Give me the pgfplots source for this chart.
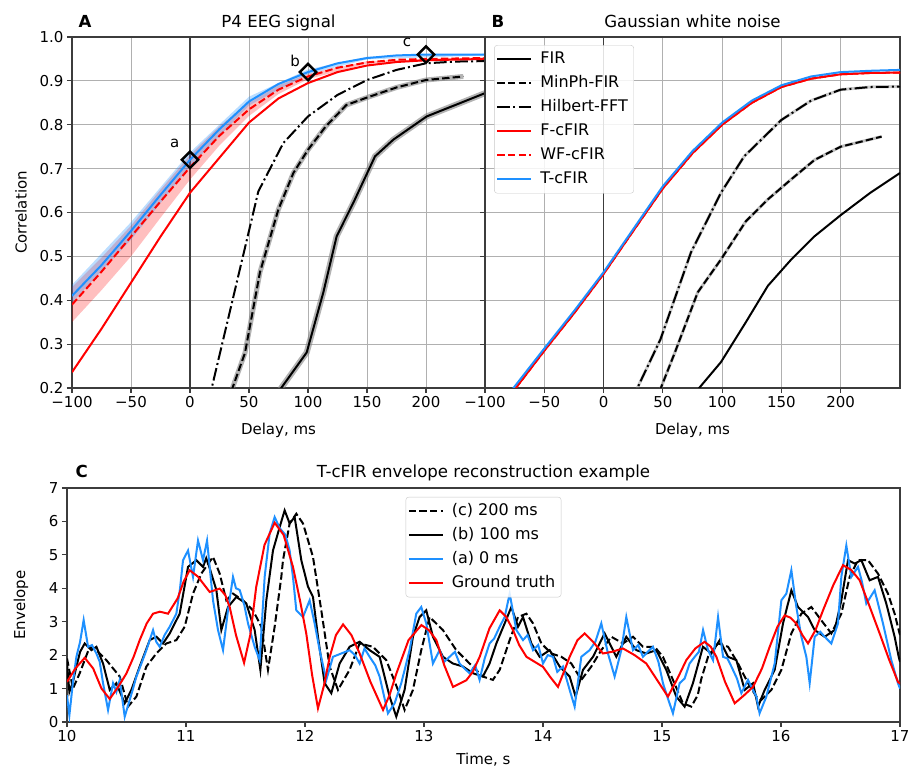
\documentclass[border=0pt]{standalone}
\usepackage{fontspec}
\setmainfont{DejaVu Sans}
\usepackage{pgfplots}
\pgfplotsset{compat=1.18}
\definecolor{tcblue}{RGB}{30,144,255}
\definecolor{gridgray}{RGB}{176,176,176}
\definecolor{spine}{RGB}{60,60,60}
\newcommand\tfont{\fontsize{15}{18}\selectfont}
\newcommand\lfont{\fontsize{16}{19}\selectfont}
\newcommand\Tfont{\fontsize{16.6}{20}\selectfont}
\pgfplotsset{
  mystyle/.style={scale only axis, axis line style={line width=1.2pt, color=spine},
    tick align=outside, tick pos=left, major tick length=5pt,
    every tick/.style={spine, line width=1.1pt},
    tick label style={font=\tfont},
    /pgf/number format/assume math mode=true},
  gridsty/.style={grid=major, major grid style={line width=1pt, color=gridgray}},
  sdash/.style={dash pattern=on 7.4pt off 3.2pt},
  sdashdot/.style={dash pattern=on 12.8pt off 3.2pt on 2pt off 3.2pt},
  mylegend/.style={legend style={draw=gridgray!70, rounded corners=3pt,
    fill=white, fill opacity=0.85, text opacity=1, font=\lfont, inner sep=2pt,
    row sep=0pt, nodes={text height=12pt, text depth=4pt, inner sep=4pt},
    /tikz/every odd column/.append style={column sep=4pt}},
    legend cell align=left,
    legend image code/.code={\draw[##1] (0pt,0pt) -- (34pt,0pt);}},
}
\begin{document}
\begin{tikzpicture}[x=1pt,y=1pt]
\path[use as bounding box] (0,0) rectangle (910,773);

% ---------------- Panel A ----------------
\begin{axis}[mystyle, gridsty, at={(72pt,385pt)}, anchor=south west,
  width=413pt, height=351pt, xmin=-100, xmax=250, ymin=0.2, ymax=1.0,
  xtick={-100,-50,0,50,100,150,200,250},
  xticklabels={−100,−50,0,50,100,150,200,{}},
  ytick={0.2,0.3,0.4,0.5,0.6,0.7,0.8,0.9,1.0},
  yticklabels={0.2,0.3,0.4,0.5,0.6,0.7,0.8,0.9,1.0}]
\draw[spine, line width=1.5pt] (axis cs:0,0.2) -- (axis cs:0,1.0);
% bands
\addplot[fill=red, fill opacity=0.25, draw=none, forget plot] coordinates {
(-100,0.43)(-75,0.497)(-50,0.57)(-25,0.652)(0,0.731)(25,0.797)(50,0.85)(75,0.89)(100,0.916)(150,0.945)(250,0.954)
(250,0.95)(150,0.939)(100,0.904)(75,0.87)(50,0.82)(25,0.753)(0,0.675)(-25,0.588)(-50,0.5)(-75,0.423)(-100,0.35)};
\addplot[fill=tcblue, fill opacity=0.3, draw=none, forget plot] coordinates {
(-100,0.435)(-50,0.578)(0,0.737)(50,0.864)(100,0.926)(150,0.955)(250,0.962)
(250,0.958)(150,0.949)(100,0.915)(50,0.844)(0,0.705)(-50,0.538)(-100,0.395)};
\addplot[gray, opacity=0.6, line width=6pt, forget plot] coordinates {
(70,0.17)(77.7,0.2015)(98.9,0.281)(113,0.418)(124.3,0.546)(138.4,0.622)(156.8,0.728)(172.3,0.766)(200.6,0.819)(250,0.872)};
\addplot[gray, opacity=0.6, line width=5pt, forget plot] coordinates {
(33,0.17)(36,0.2)(46.6,0.28)(59.3,0.464)(74.9,0.607)(87.6,0.69)(100,0.743)(115,0.796)(132.5,0.845)(150,0.862)(175,0.885)(200,0.902)(231.6,0.91)};
% lines
\addplot[black, line width=2pt] coordinates {
(70,0.17)(77.7,0.2015)(98.9,0.281)(113,0.418)(124.3,0.546)(138.4,0.622)(156.8,0.728)(172.3,0.766)(200.6,0.819)(250,0.872)};
\addplot[black, line width=2pt, sdash] coordinates {
(33,0.17)(36,0.2)(46.6,0.28)(59.3,0.464)(74.9,0.607)(87.6,0.69)(100,0.743)(115,0.796)(132.5,0.845)(150,0.862)(175,0.885)(200,0.902)(231.6,0.91)};
\addplot[black, line width=2pt, sdashdot] coordinates {
(15.7,0.17)(18.4,0.2)(57.9,0.648)(79,0.758)(100,0.819)(125,0.868)(150,0.902)(175,0.925)(200,0.94)(225,0.944)(250,0.945)};
\addplot[red, line width=2pt] coordinates {
(-100,0.236)(-75,0.335)(-50,0.44)(-25,0.545)(0,0.645)(25,0.725)(50,0.805)(75,0.86)(100,0.895)(125,0.92)(150,0.935)(175,0.943)(200,0.947)(250,0.95)};
\addplot[red, line width=2pt, sdash] coordinates {
(-100,0.39)(-75,0.465)(-50,0.545)(-25,0.625)(0,0.703)(25,0.775)(50,0.835)(75,0.88)(100,0.91)(125,0.93)(150,0.942)(175,0.948)(200,0.95)(250,0.952)};
\addplot[tcblue, line width=2pt] coordinates {
(-100,0.41)(-75,0.48)(-50,0.558)(-25,0.64)(0,0.72)(25,0.79)(50,0.853)(75,0.893)(100,0.92)(125,0.94)(150,0.952)(175,0.958)(200,0.96)(250,0.96)};
\addplot[only marks, mark=square, mark size=5.8pt, line width=2.4pt, black,
  every mark/.append style={rotate=45}] coordinates {(0,0.72)(100,0.92)(200,0.96)};
\node[font=\tfont] at (axis cs:-13,0.757) {a};
\node[font=\tfont] at (axis cs:89,0.946) {b};
\node[font=\tfont] at (axis cs:184,0.987) {c};
\end{axis}

% ---------------- Panel B ----------------
\begin{axis}[mystyle, gridsty, mylegend, at={(485pt,385pt)}, anchor=south west,
  width=415pt, height=351pt, xmin=-100, xmax=250, ymin=0.2, ymax=1.0,
  xtick={-100,-50,0,50,100,150,200},
  xticklabels={−100,−50,0,50,100,150,200},
  ytick={0.2,0.3,0.4,0.5,0.6,0.7,0.8,0.9,1.0}, yticklabels={},
  legend style={at={(0.022,0.977)}, anchor=north west}]
\draw[spine, line width=1.5pt] (axis cs:0,0.2) -- (axis cs:0,1.0);
\addplot[gray, opacity=0.5, line width=3pt, forget plot] coordinates {
(44,0.17)(48.3,0.2)(60,0.28)(79.4,0.418)(99,0.493)(120,0.58)(138.6,0.63)(158,0.675)(178,0.72)(200,0.75)(234.5,0.773)};
\addplot[gray, opacity=0.4, line width=3pt, forget plot] coordinates {
(25,0.17)(28.5,0.2)(48,0.311)(73.7,0.509)(99,0.645)(118.6,0.728)(150,0.811)(175,0.855)(200,0.88)(225,0.886)(250,0.887)};
\addplot[black, line width=2pt] coordinates {
(75,0.17)(80.6,0.2)(99,0.259)(120,0.35)(138.6,0.433)(158.3,0.493)(178,0.546)(200,0.594)(225,0.645)(250,0.69)};
\addlegendentry{FIR}
\addplot[black, line width=2pt, sdash] coordinates {
(44,0.17)(48.3,0.2)(60,0.28)(79.4,0.418)(99,0.493)(120,0.58)(138.6,0.63)(158,0.675)(178,0.72)(200,0.75)(234.5,0.773)};
\addlegendentry{MinPh-FIR}
\addplot[black, line width=2pt, sdashdot] coordinates {
(25,0.17)(28.5,0.2)(48,0.311)(73.7,0.509)(99,0.645)(118.6,0.728)(150,0.811)(175,0.855)(200,0.88)(225,0.886)(250,0.887)};
\addlegendentry{Hilbert-FFT}
\addplot[red, line width=2pt] coordinates {
(-80,0.18)(-74,0.2)(-50,0.285)(-25,0.37)(0,0.46)(25,0.558)(50,0.655)(75,0.735)(100,0.8)(125,0.85)(150,0.886)(175,0.905)(200,0.915)(225,0.918)(250,0.919)};
\addlegendentry{F-cFIR}
\addplot[red, line width=2pt, sdash] coordinates {
(-80,0.18)(-74,0.2)(-50,0.285)(-25,0.37)(0,0.46)(25,0.558)(50,0.655)(75,0.735)(100,0.8)(125,0.85)(150,0.886)(175,0.905)(200,0.915)(225,0.918)(250,0.919)};
\addlegendentry{WF-cFIR}
\addplot[tcblue, line width=2pt] coordinates {
(-82,0.18)(-76,0.2)(-50,0.29)(-25,0.375)(0,0.464)(25,0.562)(50,0.66)(75,0.74)(100,0.805)(125,0.855)(150,0.89)(175,0.91)(200,0.92)(225,0.923)(250,0.925)};
\addlegendentry{T-cFIR}
\end{axis}

% ---------------- Panel C ----------------
\begin{axis}[mystyle, mylegend, at={(67pt,51pt)}, anchor=south west,
  width=833pt, height=234pt, xmin=10, xmax=17, ymin=0, ymax=7,
  xtick={10,11,12,13,14,15,16,17}, xticklabels={10,11,12,13,14,15,16,17},
  ytick={0,1,2,3,4,5,6,7}, yticklabels={0,1,2,3,4,5,6,7},
  legend style={at={(0.5,0.962)}, anchor=north}]
\addplot[black, line width=2pt, sdash] coordinates {
(10.0,1.9)(10.05,1.0)(10.107,1.46)(10.191,2.25)(10.247,2.15)(10.331,1.85)(10.443,1.36)(10.513,0.46)(10.583,0.76)(10.667,1.66)(10.751,2.05)(10.835,2.35)(10.919,2.45)(10.989,2.85)(11.059,3.84)(11.129,4.44)(11.227,4.94)(11.283,4.44)(11.339,3.64)(11.395,3.84)(11.479,3.64)(11.563,3.34)(11.633,2.85)(11.689,1.56)(11.745,2.85)(11.801,4.34)(11.815,4.84)(11.871,5.94)(11.927,6.23)(11.983,5.94)(12.067,4.94)(12.137,3.34)(12.207,1.66)(12.277,0.96)(12.375,1.56)(12.459,2.35)(12.571,2.25)(12.683,1.85)(12.781,0.96)(12.837,0.36)(12.907,0.96)(12.977,2.15)(13.047,3.14)(13.159,2.75)(13.271,2.15)(13.383,1.75)(13.495,1.36)(13.579,1.26)(13.636,1.56)(13.72,2.45)(13.79,3.14)(13.86,3.24)(13.916,2.95)(13.986,2.35)(14.07,2.05)(14.154,1.95)(14.238,1.75)(14.322,1.26)(14.406,1.66)(14.49,2.15)(14.574,2.55)(14.672,2.35)(14.756,2.55)(14.84,2.25)(14.938,2.25)(15.008,1.95)(15.092,1.26)(15.176,0.56)(15.246,0.46)(15.3,0.8)(15.331,1.3)(15.387,1.95)(15.471,2.35)(15.555,2.25)(15.639,1.75)(15.723,1.16)(15.793,0.76)(15.835,0.66)(15.919,0.96)(16.003,1.56)(16.087,2.65)(16.171,3.24)(16.255,3.44)(16.339,3.04)(16.423,2.65)(16.507,3.24)(16.577,4.34)(16.647,4.84)(16.731,4.84)(16.815,4.44)(16.899,3.84)(16.955,3.24)(16.989,2.75)(17.0,2.6)};
\addlegendentry{(c) 200 ms}
\addplot[black, line width=2pt] coordinates {
(10.0,1.75)(10.02,0.9)(10.05,1.2)(10.079,1.66)(10.11,2.1)(10.149,2.35)(10.205,2.15)(10.247,2.25)(10.303,1.75)(10.359,0.96)(10.415,1.16)(10.485,0.56)(10.541,0.96)(10.611,1.66)(10.695,2.45)(10.751,2.55)(10.807,2.35)(10.863,2.65)(10.947,3.24)(11.017,4.64)(11.087,4.84)(11.143,4.64)(11.17,4.9)(11.199,4.6)(11.255,3.95)(11.297,2.75)(11.353,3.44)(11.423,3.74)(11.507,3.54)(11.577,2.75)(11.625,1.56)(11.675,3.64)(11.731,5.13)(11.787,5.83)(11.829,6.33)(11.871,5.94)(11.913,6.13)(11.969,4.84)(12.025,4.05)(12.067,3.74)(12.109,2.55)(12.165,1.16)(12.221,0.86)(12.291,1.75)(12.375,2.25)(12.459,2.40)(12.543,2.15)(12.627,1.95)(12.711,0.76)(12.767,0.16)(12.837,0.96)(12.907,2.55)(12.963,3.14)(13.019,3.34)(13.075,2.55)(13.159,1.95)(13.243,1.75)(13.327,1.66)(13.411,1.46)(13.495,1.36)(13.551,1.75)(13.608,2.35)(13.678,2.95)(13.734,3.44)(13.79,2.85)(13.832,3.14)(13.902,2.35)(13.972,1.95)(14.056,2.15)(14.14,1.66)(14.224,1.36)(14.274,0.76)(14.336,1.56)(14.42,1.95)(14.518,2.65)(14.616,1.95)(14.70,2.55)(14.784,2.15)(14.868,2.05)(14.952,2.15)(15.036,1.56)(15.12,0.76)(15.19,0.46)(15.26,1.16)(15.344,2.25)(15.415,2.05)(15.485,2.45)(15.555,1.95)(15.625,1.85)(15.695,0.96)(15.765,1.16)(15.807,0.46)(15.863,0.96)(15.947,1.56)(16.017,2.95)(16.087,3.94)(16.143,3.44)(16.227,3.14)(16.283,2.75)(16.367,2.55)(16.451,2.75)(16.507,3.64)(16.563,4.84)(16.619,4.74)(16.675,4.84)(16.745,4.24)(16.815,4.34)(16.885,3.54)(16.955,2.55)(16.989,1.95)(17.0,1.8)};
\addlegendentry{(b) 100 ms}
\addplot[tcblue, line width=2pt] coordinates {
(10.0,0.8)(10.02,0.2)(10.05,1.2)(10.079,1.95)(10.11,2.4)(10.14,3.05)(10.177,2.25)(10.21,2.3)(10.247,2.05)(10.275,1.8)(10.303,1.16)(10.345,0.36)(10.387,1.16)(10.415,0.9)(10.443,1.26)(10.485,0.16)(10.527,0.66)(10.555,1.0)(10.583,1.36)(10.62,1.7)(10.667,2.15)(10.723,2.75)(10.75,2.4)(10.779,2.25)(10.82,2.6)(10.863,2.85)(10.919,3.24)(10.95,4.0)(10.975,4.84)(11.017,5.13)(11.059,4.34)(11.101,5.43)(11.143,4.84)(11.177,5.43)(11.2,4.6)(11.227,3.64)(11.269,2.75)(11.311,2.15)(11.353,3.34)(11.395,4.34)(11.42,4.0)(11.451,3.95)(11.49,3.5)(11.521,2.95)(11.577,2.25)(11.619,1.85)(11.661,4.34)(11.703,5.64)(11.745,6.13)(11.787,5.8)(11.835,5.6)(11.871,5.13)(11.9,4.3)(11.927,3.34)(11.983,3.14)(12.039,3.64)(12.081,2.95)(12.123,2.15)(12.179,1.26)(12.235,1.95)(12.305,2.05)(12.375,2.15)(12.42,2.0)(12.459,1.75)(12.5,2.2)(12.543,1.95)(12.59,1.7)(12.627,1.36)(12.697,0.26)(12.753,0.56)(12.809,1.16)(12.879,2.15)(12.935,3.24)(12.977,3.44)(13.019,2.95)(13.075,1.75)(13.131,2.15)(13.17,1.8)(13.215,1.95)(13.26,2.1)(13.299,1.75)(13.34,1.6)(13.383,1.46)(13.43,1.7)(13.467,1.26)(13.51,1.9)(13.551,2.35)(13.59,2.5)(13.636,2.85)(13.678,3.14)(13.72,3.84)(13.776,2.75)(13.832,2.45)(13.87,2.6)(13.916,2.15)(13.96,2.3)(14.0,1.75)(14.04,2.0)(14.084,1.95)(14.12,1.5)(14.168,1.66)(14.224,0.96)(14.266,0.46)(14.322,1.95)(14.392,2.15)(14.44,2.4)(14.49,2.95)(14.546,2.05)(14.602,1.36)(14.658,2.15)(14.70,3.14)(14.756,2.15)(14.8,2.3)(14.84,1.95)(14.88,2.1)(14.924,2.25)(14.97,1.8)(15.008,1.16)(15.05,0.7)(15.092,0.26)(15.148,1.16)(15.19,1.3)(15.232,1.75)(15.275,1.95)(15.31,2.1)(15.345,2.75)(15.387,2.15)(15.429,1.85)(15.471,3.14)(15.513,1.95)(15.55,1.9)(15.583,1.66)(15.63,1.3)(15.667,0.86)(15.723,1.26)(15.793,0.76)(15.82,0.26)(15.877,0.76)(15.947,1.75)(16.003,3.64)(16.045,3.84)(16.087,4.54)(16.129,3.44)(16.171,2.55)(16.213,1.95)(16.241,1.16)(16.283,2.55)(16.33,2.7)(16.367,2.55)(16.423,2.35)(16.479,2.95)(16.507,4.34)(16.549,5.28)(16.591,4.34)(16.647,4.64)(16.68,4.2)(16.717,3.54)(16.787,3.94)(16.857,2.95)(16.927,1.85)(16.983,1.16)(17.0,1.0)};
\addlegendentry{(a) 0 ms}
\addplot[red, line width=2pt] coordinates {
(10.0,1.20)(10.07,1.6)(10.149,1.92)(10.22,1.6)(10.29,1.0)(10.359,0.69)(10.43,1.05)(10.499,1.45)(10.56,1.95)(10.611,2.45)(10.67,2.95)(10.723,3.24)(10.78,3.3)(10.849,3.24)(10.93,3.7)(10.98,4.2)(11.031,4.54)(11.1,4.35)(11.199,3.89)(11.283,3.99)(11.33,3.8)(11.367,3.44)(11.42,2.6)(11.488,1.77)(11.54,2.6)(11.59,4.04)(11.66,5.3)(11.745,5.96)(11.82,5.6)(11.899,4.64)(11.96,3.6)(12.011,2.64)(12.06,1.4)(12.109,0.41)(12.16,1.1)(12.208,1.95)(12.26,2.6)(12.32,2.92)(12.39,2.6)(12.459,2.05)(12.55,1.2)(12.656,0.36)(12.71,0.8)(12.768,1.45)(12.87,2.45)(12.978,2.90)(13.04,2.75)(13.104,2.45)(13.17,1.7)(13.244,1.05)(13.3,1.15)(13.356,1.25)(13.41,1.5)(13.468,1.95)(13.55,2.8)(13.636,3.34)(13.69,3.15)(13.748,2.75)(13.8,2.3)(13.861,1.95)(13.93,1.8)(14.0,1.65)(14.06,1.35)(14.126,1.05)(14.17,1.45)(14.224,1.95)(14.29,2.45)(14.35,2.65)(14.42,2.4)(14.504,2.05)(14.58,2.1)(14.672,2.2)(14.77,2.0)(14.868,1.75)(14.96,1.25)(15.05,0.76)(15.13,1.3)(15.204,1.85)(15.28,2.2)(15.358,2.40)(15.41,2.25)(15.457,1.95)(15.53,1.2)(15.611,0.56)(15.69,0.8)(15.765,1.05)(15.84,1.6)(15.905,2.25)(15.97,2.85)(16.031,3.19)(16.08,3.12)(16.129,2.94)(16.18,2.6)(16.227,2.35)(16.29,2.75)(16.353,3.34)(16.44,4.1)(16.521,4.69)(16.59,4.55)(16.661,4.24)(16.74,3.5)(16.829,2.65)(16.91,1.85)(16.983,1.20)(17.0,1.15)};
\addlegendentry{Ground truth}
\end{axis}

% ---------------- titles and labels ----------------
\node[anchor=base west, font=\Tfont\bfseries] at (75,745) {A};
\node[anchor=base, font=\Tfont] at (278.5,745) {P4 EEG signal};
\node[anchor=base west, font=\Tfont\bfseries] at (488,745) {B};
\node[anchor=base, font=\Tfont] at (692.5,745) {Gaussian white noise};
\node[anchor=base west, font=\Tfont\bfseries] at (72,295) {C};
\node[anchor=base, font=\Tfont] at (483.5,295) {T-cFIR envelope reconstruction example};
\node[anchor=base, font=\tfont] at (278.5,338) {Delay, ms};
\node[anchor=base, font=\tfont] at (692.5,338) {Delay, ms};
\node[anchor=base, font=\tfont] at (483.5,8) {Time, s};
\node[rotate=90, font=\tfont] at (21,560.5) {Correlation};
\node[rotate=90, font=\tfont] at (21,168) {Envelope};
\end{tikzpicture}
\end{document}
